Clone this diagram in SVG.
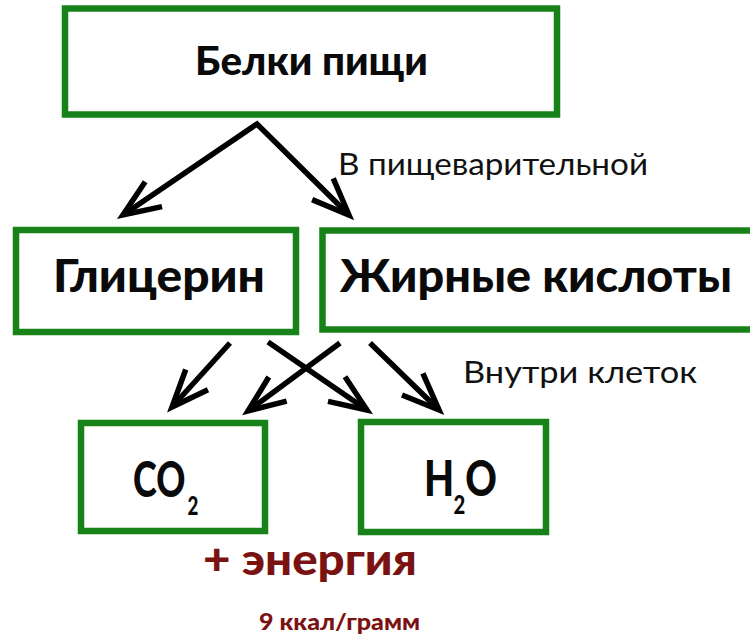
<svg xmlns="http://www.w3.org/2000/svg" width="750" height="635" viewBox="0 0 750 635">
  <style>
    .box { fill: #ffffff; stroke: #178217; stroke-width: 6.5; }
    .t { font-family: Lato, "Open Sans", "DejaVu Sans", sans-serif; font-weight: 900; fill: #0a0a0a; }
    .lbl { font-family: Lato, "Open Sans", "DejaVu Sans", sans-serif; font-size: 31px; fill: #111111; }
    .red { font-family: Lato, "Open Sans", "DejaVu Sans", sans-serif; font-weight: 900; fill: #7b1212; }
    .arrow { fill: none; stroke: #000000; stroke-width: 5.5; stroke-linejoin: miter; }
  </style>
  <defs>
    <marker id="chev" markerUnits="userSpaceOnUse" markerWidth="60" markerHeight="60" viewBox="-50 -25 60 50" refX="0" refY="0" orient="auto-start-reverse" overflow="visible">
      <path d="M-37,-15 L0,0 L-37,15" fill="none" stroke="#000000" stroke-width="5.5" stroke-linejoin="miter"/>
    </marker>
  </defs>
  <rect width="750" height="635" fill="#ffffff"/>

  <g id="connectors">
    <path class="arrow" d="M123,215 L257,124 L349,215" marker-start="url(#chev)" marker-end="url(#chev)"/>
    <path class="arrow" d="M230,343 L172,407" marker-end="url(#chev)"/>
    <path class="arrow" d="M268,342 L367,410" marker-end="url(#chev)"/>
    <path class="arrow" d="M340,343 L248,411" marker-end="url(#chev)"/>
    <path class="arrow" d="M370,343 L439,410" marker-end="url(#chev)"/>
  </g>

  <g id="node-belki">
    <rect class="box" x="65" y="8.5" width="492" height="106"/>
    <text class="t" x="195" y="75" font-size="39" textLength="233" lengthAdjust="spacingAndGlyphs">Белки пищи</text>
  </g>

  <g id="node-glicerin">
    <rect class="box" x="16" y="230" width="280" height="102"/>
    <text class="t" x="53" y="292" font-size="45" textLength="212" lengthAdjust="spacingAndGlyphs">Глицерин</text>
  </g>

  <g id="node-fatty">
    <rect class="box" x="322.5" y="230.5" width="432" height="99"/>
    <text class="t" x="340" y="292" font-size="45" textLength="392" lengthAdjust="spacingAndGlyphs">Жирные кислоты</text>
  </g>

  <g id="node-co2">
    <rect class="box" x="81" y="423" width="184" height="108"/>
    <text class="t" font-size="50" transform="translate(133,497) scale(0.72,1)">CO<tspan font-size="26" dx="3" dy="18">2</tspan></text>
  </g>

  <g id="node-h2o">
    <rect class="box" x="361" y="422" width="185" height="110"/>
    <text class="t" font-size="50" transform="translate(424,496) scale(0.78,1)">H<tspan font-size="26" dx="-1" dy="18">2</tspan><tspan dx="0" dy="-18">O</tspan></text>
  </g>

  <g id="labels">
    <text class="lbl" x="338" y="175" textLength="310" lengthAdjust="spacingAndGlyphs">В пищеварительной</text>
    <text class="lbl" x="463" y="383" textLength="234" lengthAdjust="spacingAndGlyphs">Внутри клеток</text>
    <text class="red" x="203" y="575" font-size="44" textLength="214" lengthAdjust="spacingAndGlyphs">+ энергия</text>
    <text class="red" x="259" y="630" font-size="22" textLength="161" lengthAdjust="spacingAndGlyphs">9 ккал/грамм</text>
  </g>
</svg>
